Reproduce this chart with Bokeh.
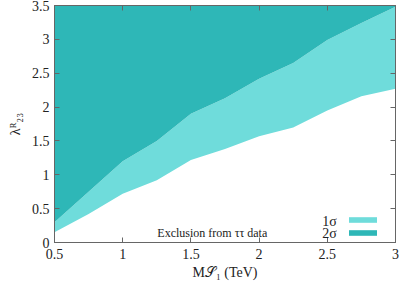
from bokeh.plotting import figure
from bokeh.models import Range1d, LinearAxis, FixedTicker, Legend, LegendItem, Label
from bokeh.core.properties import value
from bokeh.embed import file_html
from bokeh.resources import INLINE

# data
mass_tev = [0.5, 0.75, 1.0, 1.25, 1.5, 1.75, 2.0, 2.25, 2.5, 2.75, 3.0]
lambda_1sigma_low = [0.15, 0.42, 0.72, 0.92, 1.22, 1.38, 1.57, 1.70, 1.95, 2.16, 2.27]
lambda_2sigma_low = [0.30, 0.75, 1.20, 1.50, 1.90, 2.13, 2.42, 2.65, 2.99, 3.24, 3.48]
y_max = 3.5
x_ticks = [0.5, 1.0, 1.5, 2.0, 2.5, 3.0]
y_ticks = [0, 0.5, 1, 1.5, 2, 2.5, 3, 3.5]
tick_labels_x = {0.5: "0.5", 1.0: "1", 1.5: "1.5", 2.0: "2", 2.5: "2.5", 3.0: "3"}
tick_labels_y = {0: "0", 0.5: "0.5", 1: "1", 1.5: "1.5", 2: "2", 2.5: "2.5", 3: "3", 3.5: "3.5"}

LIGHT = "#6FDCDB"
DARK = "#2EB7B7"
FRAME = "#666666"
FONT = "Liberation Serif"

p = figure(width=399, height=282, output_backend="svg", toolbar_location=None,
           x_range=Range1d(0.5, 3.0), y_range=Range1d(0, 3.5),
           min_border_left=54, min_border_right=4, min_border_top=5, min_border_bottom=40,
           x_axis_label="M𝒮₁ (TeV)", y_axis_label="λᴿ₂₃")
p.grid.visible = False
p.outline_line_color = FRAME
p.outline_line_width = 1
p.background_fill_color = "white"
p.border_fill_color = "white"

r_light = p.varea(x=mass_tev, y1=lambda_1sigma_low, y2=lambda_2sigma_low, fill_color=LIGHT)
r_dark = p.varea(x=mass_tev, y1=lambda_2sigma_low, y2=[y_max] * len(mass_tev), fill_color=DARK)

def style_axis(ax, ticks, labels):
    ax.ticker = FixedTicker(ticks=ticks)
    ax.major_label_overrides = labels
    ax.major_tick_in = 5
    ax.major_tick_out = 0
    ax.minor_tick_line_color = None
    ax.axis_line_color = FRAME
    ax.major_tick_line_color = FRAME
    ax.major_label_text_font = FONT
    ax.major_label_text_font_size = "14px"
    ax.major_label_text_color = "#222222"
    ax.axis_label_text_font = FONT
    ax.axis_label_text_font_size = "14px"
    ax.axis_label_text_font_style = "normal"
    ax.axis_label_text_color = "#222222"

style_axis(p.xaxis[0], x_ticks, tick_labels_x)
style_axis(p.yaxis[0], y_ticks, tick_labels_y)
p.xaxis[0].major_label_standoff = 6
p.xaxis[0].axis_label_standoff = 3
p.yaxis[0].major_label_standoff = 5
p.yaxis[0].axis_label_standoff = 6

top_ax = LinearAxis()
right_ax = LinearAxis()
style_axis(top_ax, x_ticks, {t: "" for t in x_ticks})
style_axis(right_ax, y_ticks, {t: "" for t in y_ticks})
for ax in (top_ax, right_ax):
    ax.major_label_standoff = 0
p.add_layout(top_ax, "above")
p.add_layout(right_ax, "right")

legend = Legend(items=[LegendItem(label=value(""), renderers=[r_light]),
                       LegendItem(label=value(""), renderers=[r_dark])],
                location=(291, 6), glyph_width=35, glyph_height=7, label_width=0,
                label_height=7, label_standoff=0, spacing=6, padding=0, margin=0,
                border_line_color=None, background_fill_alpha=0)
p.add_layout(legend)

for txt, yy in (("1σ", 0.31), ("2σ", 0.13)):
    p.add_layout(Label(x=2.57, y=yy, text=txt, text_align="right", text_baseline="middle",
                       text_font=FONT, text_font_size="14px", text_color="#222222"))
p.add_layout(Label(x=2.06, y=0.14, text="Exclusion from ττ data", text_align="right",
                   text_baseline="middle", text_font=FONT, text_font_size="12px",
                   text_color="#222222"))

open("out.html", "w").write(file_html(p, INLINE))
